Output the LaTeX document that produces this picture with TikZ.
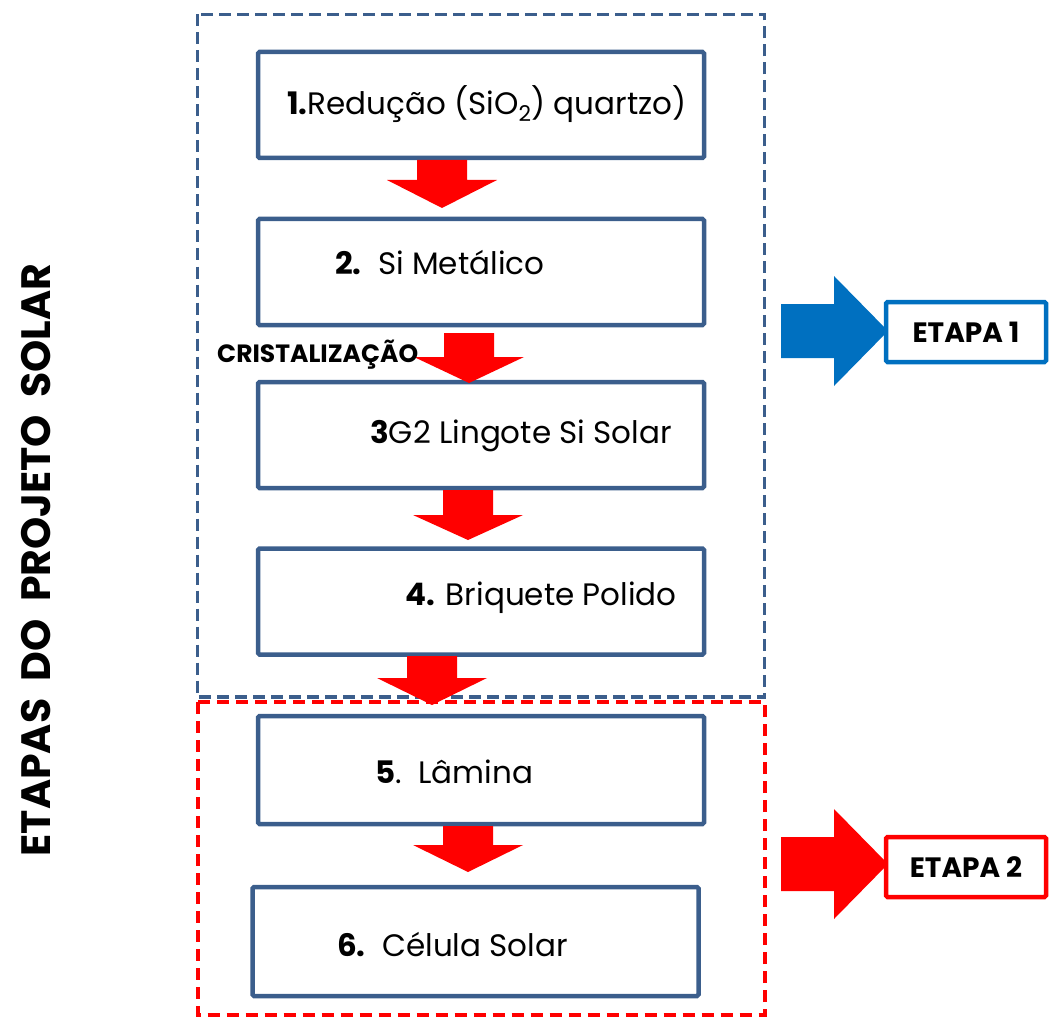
\documentclass[tikz,border=0pt]{standalone}
\usepackage{fontspec}
\setmainfont{Poppins}
\usetikzlibrary{positioning}
\usetikzlibrary{calc}

\definecolor{boxblue}{HTML}{3B5E8C}
\definecolor{etapablue}{HTML}{0070C0}
\definecolor{etapared}{HTML}{FF0000}

% seta vermelha para baixo: centro x, topo, base da ponta, ponta
\newcommand{\setabaixo}[4]{%
  \fill[etapared] (#1-25,#2) -- (#1+25,#2) -- (#1+25,#3) -- (#1+55,#3)
    -- (#1,#4) -- (#1-55,#3) -- (#1-25,#3) -- cycle;}
% seta larga para a direita: cor, y do centro
\newcommand{\setadireita}[2]{%
  \fill[#1] (781,#2-27) -- (834,#2-27) -- (834,#2-55) -- (888,#2)
    -- (834,#2+55) -- (834,#2+27) -- (781,#2+27) -- cycle;}

\tikzset{
  passo/.style={draw=boxblue, line width=4.5pt, rounded corners=1.5pt,
    minimum width=446pt, minimum height=106pt, inner sep=0pt},
  passotexto/.style={anchor=west, inner sep=0pt, font=\fontsize{31}{33}\selectfont},
  etapa/.style={draw=#1, line width=4.5pt, rounded corners=1.5pt, fill=white,
    minimum width=160pt, minimum height=60pt, inner sep=0pt,
    font=\bfseries\fontsize{28}{30}\selectfont}
}

\begin{document}
\begin{tikzpicture}[x=1pt, y=-1pt]
\useasboundingbox (0,0) rectangle (1055,1019);

%Etapa 1 e Etapa 2
\draw[boxblue, line width=3.5pt, dash pattern=on 12pt off 6pt] (197.5,14.5) rectangle (764.5,697);
\draw[etapared, line width=4pt, dash pattern=on 12pt off 7pt] (197.5,702) rectangle (764.5,1015);

%caixas
\node[passo] (b1) at (481,105) {};
\node[passo] (b2) at (481,272) {};
\node[passo] (b3) at (481,435) {};
\node[passo] (b4) at (481,601.5) {};
\node[passo, minimum height=108pt] (b5) at (481,770) {};
\node[passo, minimum height=109pt] (b6) at (475.5,941.5) {};

\node[passotexto] (t1) at (287,104) {\textbf{1.}Redução (SiO\textsubscript{2}) quartzo)};
\node[passotexto] (t2) at (335,263) {\textbf{2.}\ \ Si Metálico};
\node[passotexto] (t3) at (370,436) {\textbf{3}G2 Lingote Si Solar};
\node[passotexto] (t4) at (405,598) {\textbf{4.} Briquete Polido};
\node[passotexto] (t5) at (375,772) {\textbf{5}.\ \ Lâmina};
\node[passotexto] (t6) at (337,945) {\textbf{6.}\ \ Célula Solar};

%setas
\setabaixo{442}{160}{180}{208}
\setabaixo{469}{333}{357}{383}
\setabaixo{468}{490}{515}{540}
\setabaixo{432}{656}{678}{705}
\setabaixo{468}{826}{845}{872}

\node[anchor=west, inner sep=0pt, font=\bfseries\fontsize{25}{27}\selectfont] (cris) at (217,355) {CRISTALIZAÇÃO};

%etapas
\setadireita{etapablue}{331}
\setadireita{etapared}{864}
\node[etapa=etapablue] (e1) at (966,332) {ETAPA 1};
\node[etapa=etapared] (e2) at (966,867) {ETAPA 2};

\node[rotate=90, inner sep=0pt, font=\bfseries\fontsize{41}{43}\selectfont] (titulo) at (36,560) {ETAPAS\ \ DO\ \ PROJETO\ \ SOLAR};
\end{tikzpicture}
\end{document}
